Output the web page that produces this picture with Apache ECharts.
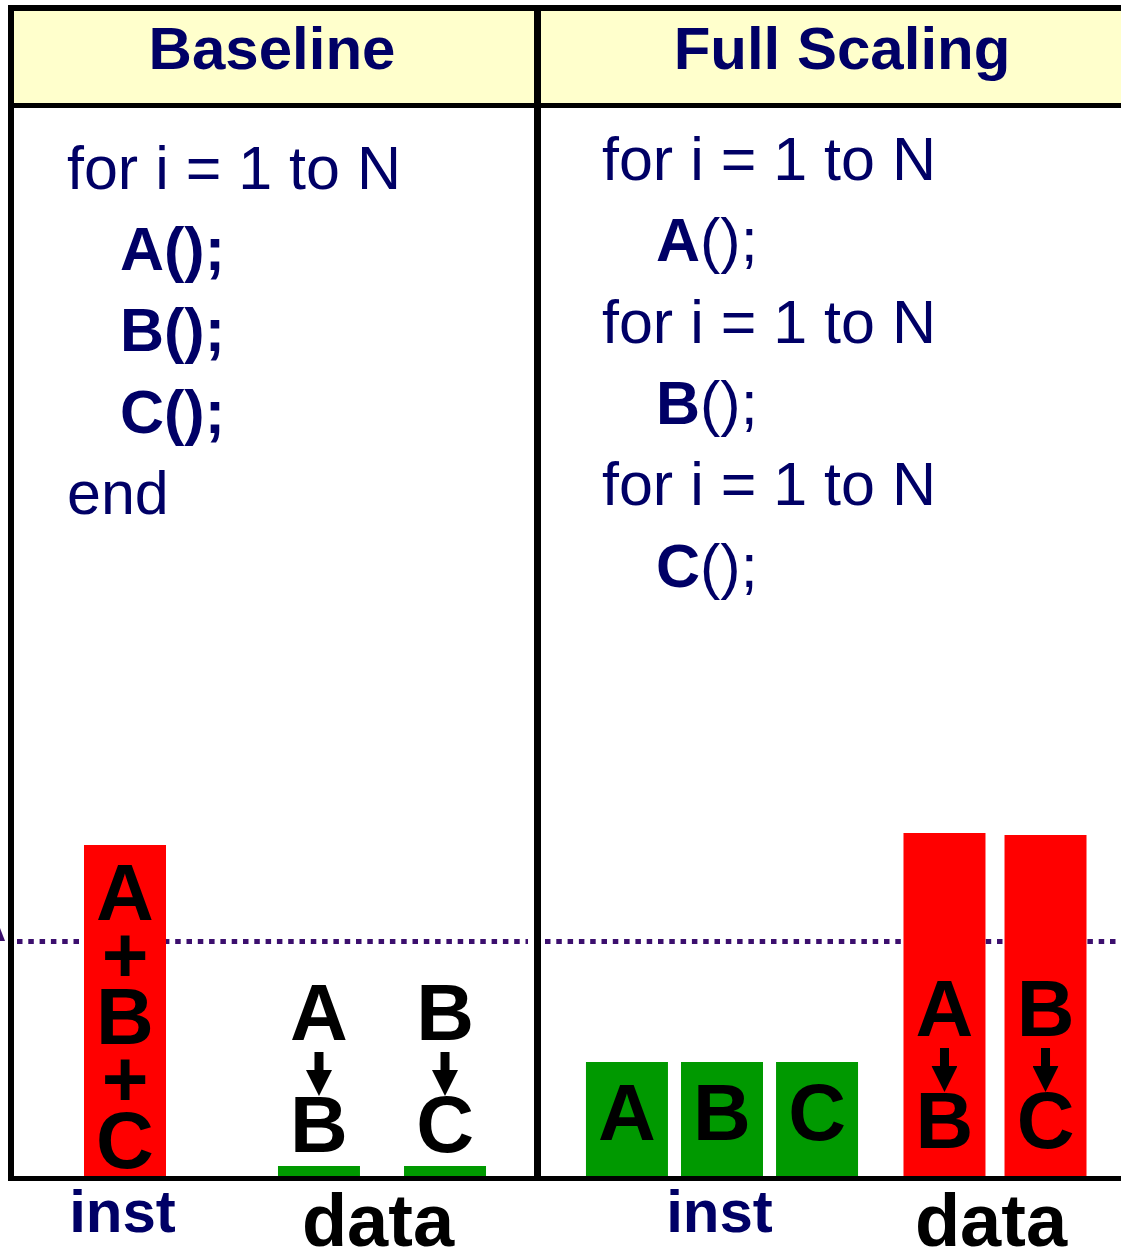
<!DOCTYPE html>
<html>
<head>
<meta charset="utf-8">
<title>Baseline vs Full Scaling</title>
<script src="https://cdn.jsdelivr.net/npm/echarts@6/dist/echarts.min.js"></script>
<style>
  html, body { margin: 0; padding: 0; background: #fff; }
  #chart { width: 1121px; height: 1251px; }
</style>
</head>
<body>
<div id="chart"></div>
<script>
// categories on the x axis of each panel
const categories = ['inst', 'data'];
const panelTitles = ['Baseline', 'Full Scaling'];

// bar heights (same scale in both panels, 0..100)
const baselineInst = [82.75, '-'];      // A+B+C
const baselineDataAB = ['-', 2.5];      // A -> B
const baselineDataBC = ['-', 2.5];      // B -> C
const scalingInstA = [28.5, '-'];
const scalingInstB = [28.5, '-'];
const scalingInstC = [28.5, '-'];
const scalingDataAB = ['-', 85.75];
const scalingDataBC = ['-', 85.25];
const threshold = 58.75;

// pseudo code shown in each panel: [text, indented]
const baselineCode = [
  ['{r|for i = 1 to N}', false],
  ['{b|A();}', true],
  ['{b|B();}', true],
  ['{b|C();}', true],
  ['{r|end}', false]
];
const scalingCode = [
  ['{r|for i = 1 to N}', false],
  ['{b|A}{r|();}', true],
  ['{r|for i = 1 to N}', false],
  ['{b|B}{r|();}', true],
  ['{r|for i = 1 to N}', false],
  ['{b|C}{r|();}', true]
];

const FONT = '"Liberation Sans", Arial, Helvetica, sans-serif';
const NAVY = '#000066';
const RED = '#ff0000';
const GREEN = '#009900';
const DOT = '#3c0f6e';

const arrowSvg = "<svg xmlns='http://www.w3.org/2000/svg' width='26' height='44' viewBox='0 0 26 44'>" +
  "<rect x='8.5' y='0' width='9' height='19' fill='black'/>" +
  "<polygon points='0,18 26,18 13,44' fill='black'/></svg>";
const arrowImg = 'data:image/svg+xml;charset=utf-8,' + encodeURIComponent(arrowSvg);

const letterRich = {
  l: { fontFamily: FONT, fontWeight: 'bold', fontSize: 80, lineHeight: 60, color: '#000' },
  arr: { width: 26, height: 44, lineHeight: 52, backgroundColor: { image: arrowImg } }
};

function flowLabel(from, to, position, distance) {
  return {
    show: true,
    position: position,
    distance: distance,
    formatter: '{l|' + from + '}\n{arr| }\n{l|' + to + '}',
    rich: letterRich
  };
}

function letterLabel(text) {
  return {
    show: true, position: 'inside', offset: [0, -1], formatter: text,
    fontFamily: FONT, fontWeight: 'bold', fontSize: 80, color: '#000'
  };
}

const codeRich = {
  r: { fontFamily: FONT, fontSize: 61, fill: NAVY },
  b: { fontFamily: FONT, fontSize: 61, fontWeight: 'bold', fill: NAVY }
};

const graphics = [];
// header band
graphics.push({ type: 'rect', shape: { x: 14, y: 11, width: 1107, height: 92 }, style: { fill: '#ffffcc' }, z: 0 });
// frame lines
const frame = [
  [8, 5, 1113, 6],      // top
  [8, 103, 1113, 5],    // header bottom
  [8, 5, 6, 1176],      // left
  [534, 5, 7, 1176],    // divider
  [8, 1176, 1113, 5]    // bottom
];
frame.forEach(f => {
  graphics.push({ type: 'rect', shape: { x: f[0], y: f[1], width: f[2], height: f[3] }, style: { fill: '#000' }, z: 10 });
});
// little arrow head cut by the left edge
graphics.push({ type: 'polygon', shape: { points: [[-6, 941], [0, 928], [5, 941]] }, style: { fill: DOT }, z: 10 });
// headers
[272, 842].forEach((cx, i) => {
  graphics.push({
    type: 'text', x: cx, y: 52, z: 20,
    style: { text: panelTitles[i], fontFamily: FONT, fontWeight: 'bold', fontSize: 60, fill: NAVY, align: 'center', verticalAlign: 'middle' }
  });
});
// code lines
function addCode(lines, x0, indent, y0, step) {
  lines.forEach((ln, i) => {
    graphics.push({
      type: 'text', x: ln[1] ? x0 + indent : x0, y: y0 + i * step, z: 20,
      style: { text: ln[0], rich: codeRich, align: 'left', verticalAlign: 'middle' }
    });
  });
}
addCode(baselineCode, 67, 53, 172, 81.3);
addCode(scalingCode, 602, 54, 163, 81.4);

const axisLabel = {
  margin: 8,
  verticalAlign: 'top',
  formatter: v => '{' + v + '|' + v + '}',
  rich: {
    inst: { fontFamily: FONT, fontWeight: 'bold', fontSize: 60, lineHeight: 62, color: NAVY, padding: [0, 5, 0, 0] },
    data: { fontFamily: FONT, fontWeight: 'bold', fontSize: 74, lineHeight: 84, color: '#000', padding: [0, 8, 0, 0] }
  }
};

const chart = echarts.init(document.getElementById('chart'));

const barBase = { type: 'bar', barWidth: 82, clip: false, z: 2 };

const option = {
  animation: false,
  backgroundColor: '#fff',
  grid: [
    { left: 125, width: 257, top: 776, bottom: 75, outerBoundsMode: 'none', containLabel: false },
    { left: 722, width: 273, top: 776, bottom: 75, outerBoundsMode: 'none', containLabel: false }
  ],
  xAxis: [
    { type: 'category', gridIndex: 0, data: categories, boundaryGap: false, axisLine: { show: false }, axisTick: { show: false }, axisLabel: axisLabel },
    { type: 'category', gridIndex: 0, data: categories, boundaryGap: false, show: false },
    { type: 'category', gridIndex: 1, data: categories, boundaryGap: false, axisLine: { show: false }, axisTick: { show: false }, axisLabel: axisLabel },
    { type: 'category', gridIndex: 1, data: categories, boundaryGap: false, show: false }
  ],
  yAxis: [
    { type: 'value', gridIndex: 0, min: 0, max: 100, show: false },
    { type: 'value', gridIndex: 1, min: 0, max: 100, show: false }
  ],
  series: [
    Object.assign({}, barBase, {
      name: 'A+B+C', xAxisIndex: 0, yAxisIndex: 0,
      data: baselineInst, itemStyle: { color: RED },
      label: {
        show: true, position: 'inside', offset: [0, 11],
        formatter: '{l|A}\n{l|+}\n{l|B}\n{l|+}\n{l|C}',
        rich: { l: { fontFamily: FONT, fontWeight: 'bold', fontSize: 80, lineHeight: 62, color: '#000' } }
      },
      markLine: {
        z: 1, silent: true, symbol: 'none', label: { show: false },
        lineStyle: { color: DOT, width: 5, type: [5.5, 5.8] },
        data: [[{ x: 17, yAxis: threshold }, { x: 528, yAxis: threshold }]]
      }
    }),
    Object.assign({}, barBase, {
      name: 'A→B', xAxisIndex: 1, yAxisIndex: 0,
      data: baselineDataAB, barGap: '53.7%', itemStyle: { color: GREEN },
      label: flowLabel('A', 'B', 'top', 6)
    }),
    Object.assign({}, barBase, {
      name: 'B→C', xAxisIndex: 1, yAxisIndex: 0,
      data: baselineDataBC, barGap: '53.7%', itemStyle: { color: GREEN },
      label: flowLabel('B', 'C', 'top', 6)
    }),
    Object.assign({}, barBase, {
      name: 'A', xAxisIndex: 2, yAxisIndex: 1,
      data: scalingInstA, barGap: '15.9%', itemStyle: { color: GREEN },
      label: letterLabel('A'),
      markLine: {
        z: 1, silent: true, symbol: 'none', label: { show: false },
        lineStyle: { color: DOT, width: 5, type: [5.5, 5.8] },
        data: [[{ x: 545, yAxis: threshold }, { x: 1121, yAxis: threshold }]]
      }
    }),
    Object.assign({}, barBase, {
      name: 'B', xAxisIndex: 2, yAxisIndex: 1,
      data: scalingInstB, barGap: '15.9%', itemStyle: { color: GREEN },
      label: letterLabel('B')
    }),
    Object.assign({}, barBase, {
      name: 'C', xAxisIndex: 2, yAxisIndex: 1,
      data: scalingInstC, barGap: '15.9%', itemStyle: { color: GREEN },
      label: letterLabel('C')
    }),
    Object.assign({}, barBase, {
      name: 'A→B (scaled)', xAxisIndex: 3, yAxisIndex: 1,
      data: scalingDataAB, barGap: '23.2%', itemStyle: { color: RED },
      label: flowLabel('A', 'B', 'insideBottom', 20)
    }),
    Object.assign({}, barBase, {
      name: 'B→C (scaled)', xAxisIndex: 3, yAxisIndex: 1,
      data: scalingDataBC, barGap: '23.2%', itemStyle: { color: RED },
      label: flowLabel('B', 'C', 'insideBottom', 20)
    })
  ],
  graphic: graphics
};

chart.setOption(option);
</script>
</body>
</html>
